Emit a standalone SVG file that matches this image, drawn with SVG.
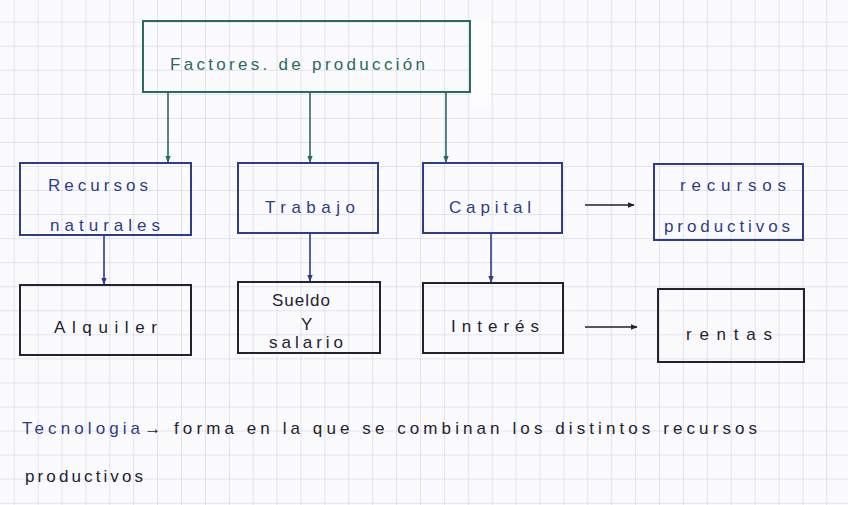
<svg xmlns="http://www.w3.org/2000/svg" width="848" height="505" viewBox="0 0 848 505">
  <defs>
    <pattern id="grid" x="-10.2" y="-2.35" width="23.9" height="24.05" patternUnits="userSpaceOnUse">
      <path d="M0 0 H23.9 M0 0 V24.05" fill="none" stroke="#c9c9dd" stroke-width="1"/>
    </pattern>
    <marker id="ahTeal" viewBox="0 0 10 10" refX="9" refY="5" markerWidth="7" markerHeight="7" orient="auto" markerUnits="userSpaceOnUse">
      <path d="M0 1 L10 5 L0 9 Z" fill="#2b6a60"/>
    </marker>
    <marker id="ahNavy" viewBox="0 0 10 10" refX="9" refY="5" markerWidth="7" markerHeight="7" orient="auto" markerUnits="userSpaceOnUse">
      <path d="M0 1 L10 5 L0 9 Z" fill="#2e3c8c"/>
    </marker>
    <marker id="ahDark" viewBox="0 0 10 10" refX="9" refY="5" markerWidth="7" markerHeight="7" orient="auto" markerUnits="userSpaceOnUse">
      <path d="M0 1 L10 5 L0 9 Z" fill="#222230"/>
    </marker>
  </defs>
  <style>
    .box { fill: none; stroke-width: 2; }
    .teal { stroke: #2b6a60; }
    .navy { stroke: #2e3c8c; }
    .dark { stroke: #222230; }
    text { font-family: "Liberation Sans", Arial, sans-serif; font-size: 17px; }
    .tTeal { fill: #2b6a60; }
    .tNavy { fill: #2e3c8c; }
    .tDark { fill: #222230; }
    .conn { fill: none; stroke-width: 1.6; }
  </style>

  <rect width="848" height="505" fill="#fbfbfd"/>
  <rect width="848" height="505" fill="url(#grid)"/>
  <rect x="471" y="18" width="20" height="88" fill="#fdfdfe"/>

  <g id="factores">
    <rect class="box teal" x="143" y="21" width="327" height="71"/>
    <text class="tTeal" x="170" y="70" textLength="255" lengthAdjust="spacing">Factores. de producción</text>
  </g>

  <g id="recursos-naturales">
    <rect class="box navy" x="20" y="163" width="171" height="72"/>
    <text class="tNavy" x="48" y="191" textLength="100" lengthAdjust="spacing">Recursos</text>
    <text class="tNavy" x="50" y="231" textLength="110" lengthAdjust="spacing">naturales</text>
  </g>

  <g id="trabajo">
    <rect class="box navy" x="238" y="163" width="140" height="70"/>
    <text class="tNavy" x="265" y="213" textLength="90" lengthAdjust="spacing">Trabajo</text>
  </g>

  <g id="capital">
    <rect class="box navy" x="423" y="163" width="139" height="70"/>
    <text class="tNavy" x="449" y="213" textLength="82" lengthAdjust="spacing">Capital</text>
  </g>

  <g id="recursos-productivos">
    <rect class="box navy" x="654" y="164" width="149" height="76"/>
    <text class="tNavy" x="680" y="191" textLength="106" lengthAdjust="spacing">recursos</text>
    <text class="tNavy" x="664" y="232" textLength="126" lengthAdjust="spacing">productivos</text>
  </g>

  <g id="alquiler">
    <rect class="box dark" x="20" y="285" width="171" height="70"/>
    <text class="tDark" x="54" y="333" textLength="103" lengthAdjust="spacing">Alquiler</text>
  </g>

  <g id="sueldo-salario">
    <rect class="box dark" x="238" y="282" width="142" height="71"/>
    <text class="tDark" x="272" y="306" textLength="58" lengthAdjust="spacing">Sueldo</text>
    <text class="tDark" x="301" y="330">Y</text>
    <text class="tDark" x="269" y="348" textLength="74" lengthAdjust="spacing">salario</text>
  </g>

  <g id="interes">
    <rect class="box dark" x="423" y="283" width="140" height="70"/>
    <text class="tDark" x="451" y="332" textLength="88" lengthAdjust="spacing">Interés</text>
  </g>

  <g id="rentas">
    <rect class="box dark" x="658" y="289" width="146" height="73"/>
    <text class="tDark" x="686" y="340" textLength="86" lengthAdjust="spacing">rentas</text>
  </g>

  <g id="connectors">
    <line class="conn teal" x1="168" y1="92" x2="168" y2="162" marker-end="url(#ahTeal)"/>
    <line class="conn teal" x1="310" y1="92" x2="310" y2="162" marker-end="url(#ahTeal)"/>
    <line class="conn teal" x1="446" y1="92" x2="446" y2="162" marker-end="url(#ahTeal)"/>
    <line class="conn navy" x1="104" y1="235" x2="104" y2="284" marker-end="url(#ahNavy)"/>
    <line class="conn navy" x1="310" y1="233" x2="310" y2="281" marker-end="url(#ahNavy)"/>
    <line class="conn navy" x1="491" y1="233" x2="491" y2="282" marker-end="url(#ahNavy)"/>
    <line class="conn dark" x1="585" y1="205" x2="634" y2="205" marker-end="url(#ahDark)"/>
    <line class="conn dark" x1="585" y1="327" x2="637" y2="327" marker-end="url(#ahDark)"/>
  </g>

  <g id="nota">
    <text x="22" y="434" textLength="735" lengthAdjust="spacing"><tspan class="tNavy">Tecnologia</tspan><tspan class="tDark">→ forma en la que se combinan los distintos recursos</tspan></text>
    <text class="tDark" x="25" y="482" textLength="118" lengthAdjust="spacing">productivos</text>
  </g>
</svg>
